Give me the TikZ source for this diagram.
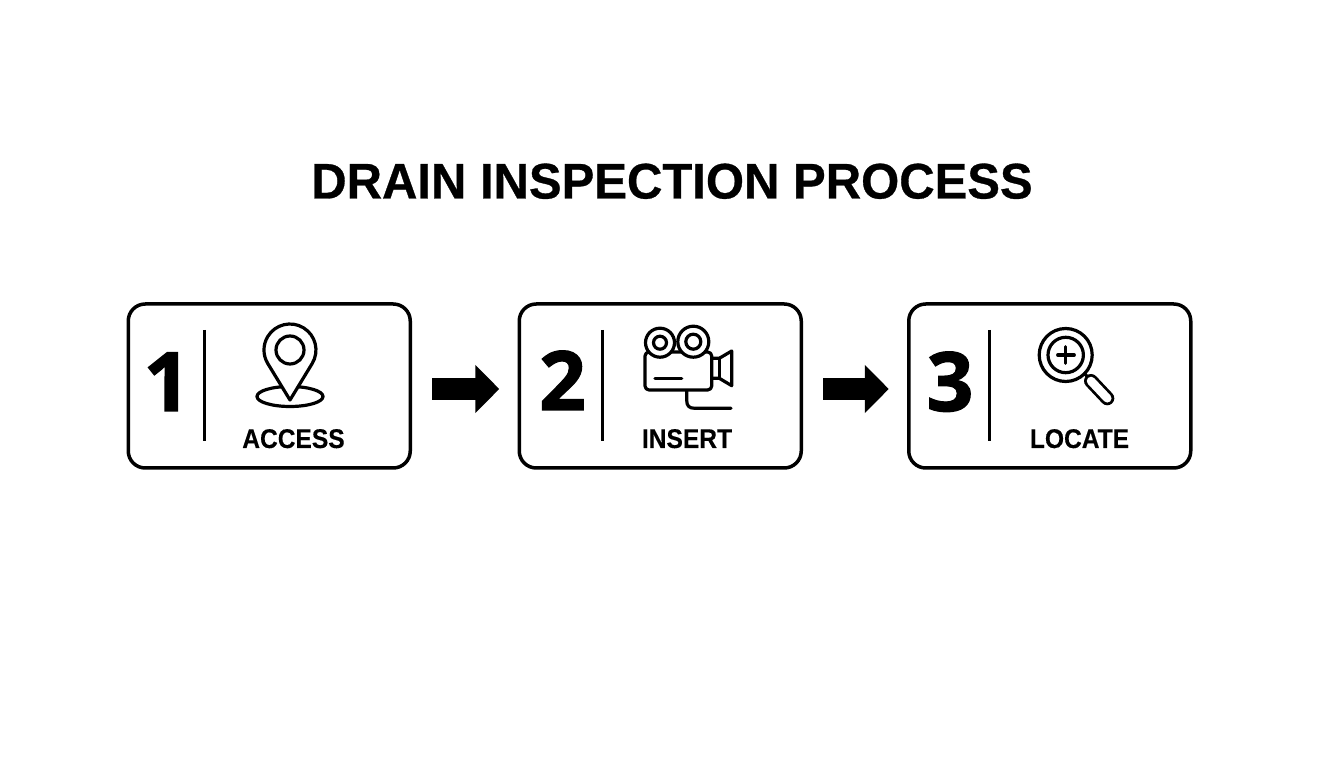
\documentclass[tikz,border=0pt]{standalone}
\usepackage{fontspec}
\setmainfont{Liberation Sans}
\newfontfamily\headfont{Liberation Sans Bold}[FakeStretch=0.98, FakeBold=0.6]
\newfontfamily\tagfont{Liberation Sans Bold}[FakeStretch=0.91, FakeBold=0.3]
\newfontfamily\numfont{Open Sans Bold}[FakeBold=1.5]
\usetikzlibrary{arrows.meta}
\usetikzlibrary{positioning}

\begin{document}
\begin{tikzpicture}[x=1pt, y=1pt,
				   box/.style={draw=black, line width=3.5pt, rounded corners=17pt, minimum width=282pt, minimum height=164pt, outer sep=0pt},
				   title/.style={font=\fontsize{50}{50}\headfont, anchor=base},
				   num/.style={font=\fontsize{82}{82}\numfont, anchor=base},
				   tag/.style={font=\fontsize{27}{27}\tagfont, anchor=base},
				   divider/.style={line width=3pt},
				   icon/.style={line width=3.2pt, line join=round, line cap=round},
				   flow/.style={line width=22pt, -{Triangle[length=24pt, width=47pt]}, shorten <=22pt, shorten >=20pt}]
\fill[white] (0,0) rectangle (1344,768);
\useasboundingbox (0,0) rectangle (1344,768);
\node[title] (heading) at (672,569.5) {DRAIN INSPECTION PROCESS};

\node[box] (access) at (269.25,382) {};
\node[box, right=109pt of access] (insert) {};
\node[box, right=107.5pt of insert] (locate) {};

\node[num] (one) at (167,357) {1};
\node[num] (two) at (562.5,358) {2};
\node[num] (three) at (950,357) {3};

\node[tag] (accesstag) at (293.5,320) {ACCESS};
\node[tag] (inserttag) at (687,320) {INSERT};
\node[tag] (locatetag) at (1079.5,320) {LOCATE};

\draw[divider] (204,438) -- (204,327);
\draw[divider] (602,438) -- (602,327);
\draw[divider] (989,438) -- (989,327);

\draw[flow] ([yshift=-3pt]access.east) -- ([yshift=-3pt]insert.west);
\draw[flow] ([yshift=-3pt]insert.east) -- ([yshift=-3pt]locate.west);

% pin
\draw[icon] (290,371.5) ellipse [x radius=33, y radius=10];
\draw[icon, fill=white] (290,368) -- ++(58.7:50*0.854) arc [start angle=-31.3, end angle=211.3, radius=26] -- cycle;
\draw[icon] (290,418) circle [radius=14];

% camera
\draw[icon, rounded corners=4pt] (645,416) -- (645,378) -- (711.7,378) -- (711.7,416) -- cycle;
\draw[icon, fill=white] (660,425.3) circle [radius=14.5];
\draw[icon, fill=white] (693.3,426.3) circle [radius=15.5];
\draw[icon] (660,425.3) circle [radius=6.5];
\draw[icon] (693.3,426.3) circle [radius=7.5];
\draw[icon] (655,389.7) -- (681.7,389.7);
\draw[icon] (711.7,409.7) -- (719.3,409.7) -- (731.7,417) -- (731.7,382.3) -- (719.3,389.7) -- (711.7,389.7);
\draw[icon] (719.3,409.7) -- (719.3,389.7);
\draw[icon] (686.7,377) -- (686.7,368) .. controls (686.7,362) and (689,359.7) .. (695,359.7) -- (731,359.7);

% magnifier
\draw[icon] (1065.7,413) circle [radius=26.5];
\draw[icon] (1065.7,413) circle [radius=17.7];
\draw[icon] (1057.7,413) -- (1074.3,413);
\draw[icon] (1065.7,404.7) -- (1065.7,421.3);
\draw[icon] (1084.5,394.5) -- (1091,387);
\draw[line width=14pt, line cap=round] (1091,387) -- (1107.3,369.7);
\draw[line width=8.5pt, line cap=round, white] (1091,387) -- (1107.3,369.7);
\end{tikzpicture}
\end{document}
